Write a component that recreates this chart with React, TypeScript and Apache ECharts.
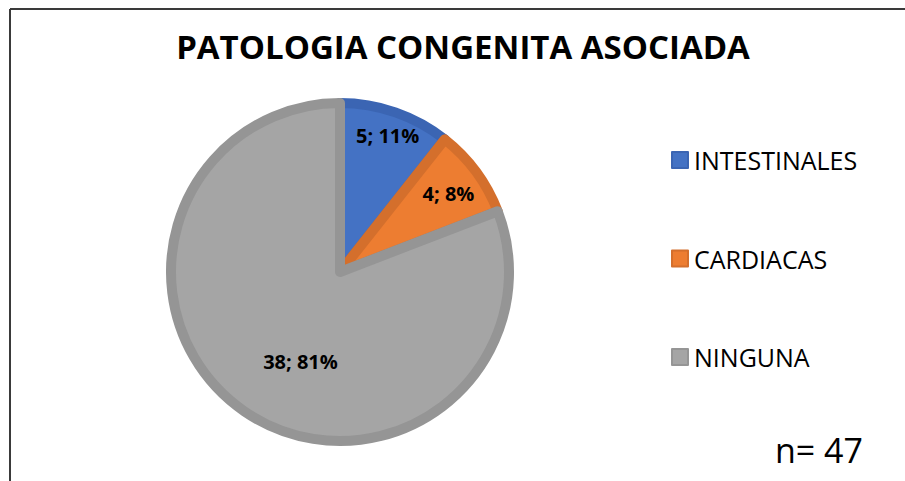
import React, { useEffect, useRef } from "react";
import * as echarts from "echarts";

const categories = ["INTESTINALES", "CARDIACAS", "NINGUNA"];
const values = [5, 4, 38];
const totalLabel = "n= 47";
const titleText = "PATOLOGIA CONGENITA ASOCIADA";

const fills = ["#4472C4", "#ED7D31", "#A5A5A5"];
const borders = ["#3B65B3", "#D46F2C", "#959595"];
const labelShift: [number, number][] = [
  [19, -54],
  [38, -27],
  [10, 17],
];

const FONT = "'Open Sans', sans-serif";

export default function App() {
  const ref = useRef<HTMLDivElement>(null);
  useEffect(() => {
    if (!ref.current) return;
    const chart = echarts.init(ref.current, undefined, { renderer: "svg" });
    chart.setOption({
      animation: false,
      backgroundColor: "#ffffff",
      title: {
        text: titleText,
        left: 463,
        top: 30,
        padding: 0,
        textAlign: "center",
        textStyle: {
          fontFamily: FONT,
          fontWeight: "bold",
          fontSize: 33,
          color: "#000000",
        },
      },
      legend: {
        orient: "vertical",
        left: 671,
        top: 145,
        padding: 0,
        itemWidth: 16,
        itemHeight: 16,
        itemGap: 68.5,
        icon: "rect",
        data: categories,
        textStyle: {
          fontFamily: FONT,
          fontSize: 25,
          lineHeight: 30,
          color: "#000000",
          padding: [0, 0, 0, 1],
        },
        selectedMode: false,
      },
      graphic: [
        {
          type: "line",
          shape: { x1: 10, y1: 9, x2: 905, y2: 9 },
          style: { stroke: "#3a3a3a", lineWidth: 2 },
        },
        {
          type: "line",
          shape: { x1: 10, y1: 9, x2: 10, y2: 481 },
          style: { stroke: "#3a3a3a", lineWidth: 2 },
        },
        {
          type: "text",
          left: 775,
          top: 433,
          style: {
            text: totalLabel,
            fontFamily: FONT,
            fontSize: 34,
            fill: "#000000",
          },
        },
      ],
      series: [
        {
          type: "pie",
          center: [340, 272],
          radius: 169,
          startAngle: 90,
          clockwise: true,
          percentPrecision: 0,
          label: {
            show: true,
            position: "inside",
            fontFamily: FONT,
            fontWeight: "bold",
            fontSize: 20,
            color: "#000000",
            formatter: (p: any) => `${p.value}; ${p.percent}%`,
          },
          labelLine: { show: false },
          emphasis: { disabled: true },
          data: categories.map((name, i) => ({
            name,
            value: values[i],
            itemStyle: {
              color: fills[i],
              borderColor: borders[i],
              borderWidth: 10,
            },
            label: { offset: labelShift[i] },
          })),
        },
      ],
    });
    return () => chart.dispose();
  }, []);
  return (
    <div
      ref={ref}
      style={{ position: "fixed", left: 0, top: 0, width: 905, height: 481 }}
    />
  );
}
